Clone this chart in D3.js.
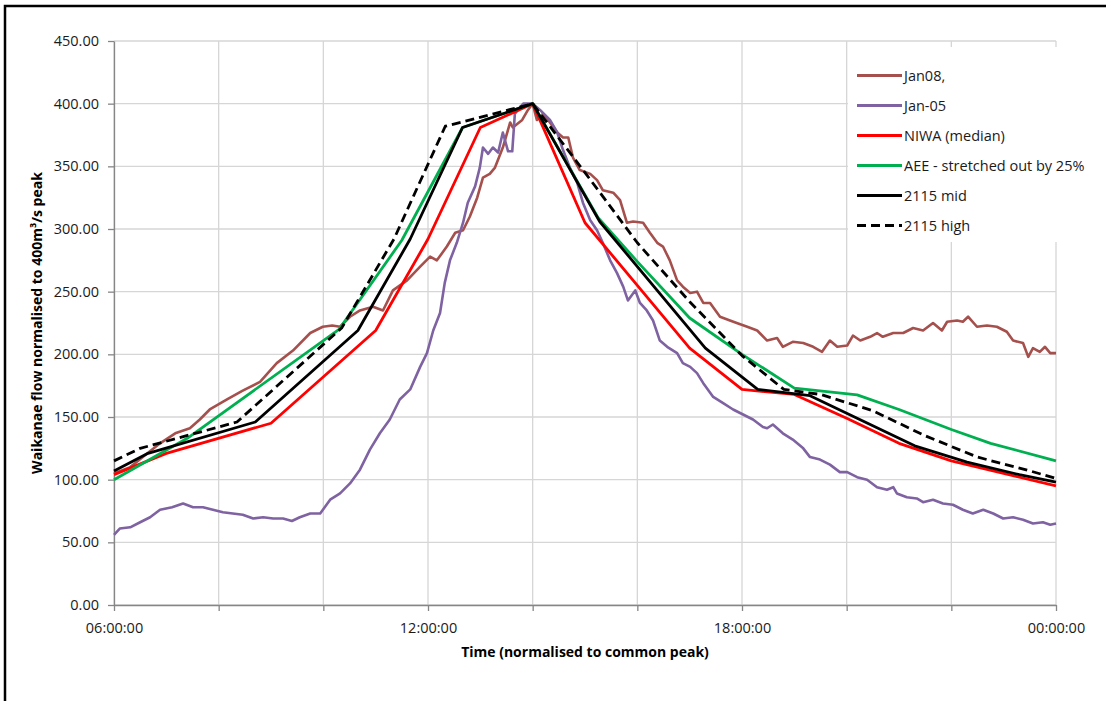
<!DOCTYPE html>
<html>
<head>
<meta charset="utf-8">
<script src="https://cdn.jsdelivr.net/npm/d3@7"></script>
<style>
  body { margin: 0; background: #fff; }
  svg text { font-family: "Open Sans", "Noto Sans", sans-serif; }
</style>
</head>
<body>
<div id="chart"></div>
<script>

// hours from 06:00 (6) to next 00:00 (24)
var gridHours = [6, 8, 10, 12, 14, 16, 18, 20, 22, 24];
var timeTicks = [6, 12, 18, 24];
var timeLabels = ["06:00:00", "12:00:00", "18:00:00", "00:00:00"];
var flowTicks = [0, 50, 100, 150, 200, 250, 300, 350, 400, 450];

var seriesNames = ["Jan08,", "Jan-05", "NIWA (median)", "AEE - stretched out by 25%", "2115 mid", "2115 high"];

var jan08 = [[6.00,105],[6.31,110],[6.55,118],[6.88,129],[7.17,137],[7.45,141],[7.64,148],[7.83,156],[8.16,164],[8.46,171],
  [8.79,178],[9.11,193],[9.42,203],[9.75,217],[9.99,222],[10.17,223],[10.32,222],[10.51,230],[10.70,235],[10.95,238],
  [11.14,235],[11.33,251],[11.60,259],[11.85,270],[12.04,278],[12.17,275],[12.36,286],[12.52,297],[12.67,299],[12.80,310],
  [12.94,325],[13.05,341],[13.18,344],[13.28,349],[13.43,365],[13.57,385],[13.62,381],[13.80,387],[13.91,395],[14.00,400],
  [14.08,387],[14.20,392],[14.33,385],[14.47,377],[14.58,373],[14.68,373],[14.77,357],[14.90,347],[15.10,344],[15.23,339],
  [15.34,331],[15.54,329],[15.67,323],[15.80,305],[15.92,306],[16.11,305],[16.24,297],[16.38,289],[16.49,286],[16.62,275],
  [16.76,259],[16.87,254],[17.01,249],[17.14,250],[17.26,241],[17.39,241],[17.58,230],[17.77,227],[17.90,225],[18.10,222],
  [18.29,219],[18.48,211],[18.67,213],[18.78,206],[18.97,210],[19.17,209],[19.36,206],[19.53,202],[19.68,211],[19.82,206],
  [20.01,207],[20.12,215],[20.26,211],[20.45,214],[20.58,217],[20.69,214],[20.89,217],[21.08,217],[21.27,221],[21.46,219],
  [21.65,225],[21.82,219],[21.92,226],[22.11,227],[22.22,226],[22.32,230],[22.49,222],[22.68,223],[22.87,222],[23.06,218],
  [23.18,211],[23.37,209],[23.47,198],[23.56,205],[23.69,202],[23.79,206],[23.89,201],[24.00,201]];

var jan05 = [[6.00,56],[6.11,61],[6.31,62],[6.50,66],[6.69,70],[6.88,76],[7.11,78],[7.32,81],[7.51,78],[7.70,78],
  [7.89,76],[8.08,74],[8.27,73],[8.46,72],[8.66,69],[8.85,70],[9.04,69],[9.23,69],[9.40,67],[9.55,70],
  [9.75,73],[9.94,73],[10.13,84],[10.32,89],[10.51,97],[10.70,108],[10.89,124],[11.08,137],[11.27,148],[11.46,164],
  [11.66,172],[11.85,190],[11.98,201],[12.10,219],[12.23,233],[12.32,257],[12.42,275],[12.55,289],[12.67,305],[12.76,321],
  [12.90,334],[12.99,349],[13.05,365],[13.15,360],[13.24,365],[13.34,361],[13.43,377],[13.53,362],[13.61,362],[13.66,392],
  [13.82,400],[14.00,400],[14.14,395],[14.33,387],[14.47,377],[14.58,363],[14.71,349],[14.85,337],[14.96,321],[15.10,307],
  [15.23,299],[15.34,289],[15.48,275],[15.61,265],[15.73,254],[15.82,243],[15.96,251],[16.05,241],[16.18,235],[16.30,227],
  [16.43,211],[16.57,206],[16.76,201],[16.87,193],[17.01,190],[17.14,185],[17.26,177],[17.45,166],[17.64,161],[17.83,156],
  [18.02,152],[18.21,148],[18.40,142],[18.48,141],[18.59,144],[18.78,137],[18.97,132],[19.17,125],[19.30,118],[19.49,116],
  [19.68,112],[19.87,106],[20.01,106],[20.20,102],[20.39,100],[20.58,94],[20.77,92],[20.89,94],[20.96,89],[21.15,86],
  [21.34,85],[21.46,82],[21.65,84],[21.84,81],[22.03,80],[22.22,76],[22.41,73],[22.61,76],[22.80,73],[22.99,69],
  [23.18,70],[23.37,68],[23.56,65],[23.75,66],[23.89,64],[24.00,65]];

var niwa = [[6,104],[7,121],[9,145],[11,219],[12,292],[13,381],[14,400],[15,305],[17,205],[18,172],
  [19,168],[20,149],[21,129],[22,115],[23,105],[24,95]];

var aee = [[6,100],[7.4,133],[10.3,220],[11.5,291],[12.66,381],[14,400],[15.25,309],[16,274],[17,229],[18,200],
  [19,173],[20.2,167.6],[21,156],[22,140],[22.75,129],[24,115]];

var mid2115 = [[6,107],[6.65,121],[8.7,146],[10.66,219],[11.66,292],[12.66,381],[14,400],[15.28,306],[17.3,205],[18.3,172],
  [19.3,167],[20.3,147],[21.3,127],[22.3,114],[23.3,104],[24,98]];

var high2115 = [[6,115],[6.5,125],[8.35,146],[10.35,221],[11.35,292],[12.33,382],[14,400],[15,345],[16,289],[17,242],
  [18,199],[18.8,172],[19.5,168],[20.5,155],[21.5,135],[22.5,118],[23.5,107],[24,101]];

var colors = ["#A5504C", "#7E62A1", "#FF0000", "#00B050", "#000000", "#000000"];

function drawChart(containerId){

    var width = 1106, height = 701;
    var plot = {left: 114, right: 1056, top: 41, bottom: 605};

    var svg = d3.select('#'+containerId).append("svg")
        .attr("width", width)
        .attr("height", height);

    var x = d3.scaleLinear().domain([6, 24]).range([plot.left, plot.right]);
    var y = d3.scaleLinear().domain([0, 450]).range([plot.bottom, plot.top]);

    // gridlines
    svg.append("g").selectAll("line.h")
        .data(flowTicks)
        .enter().append("line")
        .attr("x1", plot.left).attr("x2", plot.right)
        .attr("y1", d => y(d)).attr("y2", d => y(d))
        .style("stroke", "#D6D6D6").style("stroke-width", 1.3);

    svg.append("g").selectAll("line.v")
        .data(gridHours)
        .enter().append("line")
        .attr("x1", d => x(d)).attr("x2", d => x(d))
        .attr("y1", plot.top).attr("y2", plot.bottom)
        .style("stroke", "#D6D6D6").style("stroke-width", 1.3);

    // axes
    var yAxis = g => g
        .attr("transform", "translate(" + plot.left + ",0)")
        .call(d3.axisLeft(y).tickValues(flowTicks).tickFormat(d3.format(".2f")).tickSize(6).tickSizeOuter(0).tickPadding(9));

    var xAxis = g => g
        .attr("transform", "translate(0," + plot.bottom + ")")
        .call(d3.axisBottom(x).tickValues(gridHours)
            .tickFormat(d => timeTicks.indexOf(d) >= 0 ? timeLabels[timeTicks.indexOf(d)] : "")
            .tickSize(6).tickSizeOuter(0).tickPadding(12));

    svg.append("g").call(yAxis);
    svg.append("g").call(xAxis);

    svg.selectAll(".domain, .tick line").style("stroke", "#868686").style("stroke-width", 1.3);
    svg.selectAll(".tick text").style("font-size", "14.5px").style("fill", "#1a1a1a")
        .style("font-family", '"Open Sans", sans-serif');

    // axis titles
    svg.append("text")
        .attr("x", (plot.left + plot.right) / 2)
        .attr("y", 657)
        .attr("text-anchor", "middle")
        .style("font-size", "14px").style("font-weight", "bold")
        .text("Time (normalised to common peak)");

    svg.append("text")
        .attr("transform", "translate(42," + ((plot.top + plot.bottom) / 2) + ") rotate(-90)")
        .attr("text-anchor", "middle")
        .style("font-size", "14px").style("font-weight", "bold")
        .text("Waikanae flow normalised to 400m³/s peak");

    // series
    var line = d3.line()
        .x(d => x(d[0]))
        .y(d => y(d[1]));

    var allSeries = [jan08, jan05, niwa, aee, mid2115, high2115];

    svg.append("g").selectAll("path")
        .data(allSeries)
        .enter().append("path")
        .attr("fill", "none")
        .attr("stroke", (d, i) => colors[i])
        .attr("stroke-width", (d, i) => i < 2 ? 2.6 : 2.8)
        .attr("stroke-dasharray", (d, i) => i == 5 ? "9,5" : null)
        .attr("stroke-linejoin", "round")
        .attr("d", d => line(d));

    // legend
    var legend = svg.append("g");
    legend.append("rect")
        .attr("x", 848).attr("y", 47)
        .attr("width", 250).attr("height", 195)
        .attr("fill", "#fff");

    var item = legend.selectAll("g.item")
        .data(seriesNames)
        .enter().append("g")
        .attr("transform", (d, i) => "translate(857," + (75.5 + i * 30) + ")");

    item.append("line")
        .attr("x1", 0).attr("x2", 45)
        .attr("stroke", (d, i) => colors[i])
        .attr("stroke-width", 2.8)
        .attr("stroke-dasharray", (d, i) => i == 5 ? "9,5" : null);

    item.append("text")
        .attr("x", 47).attr("dy", "0.35em")
        .style("font-size", "14.5px").style("fill", "#1a1a1a")
        .text(d => d);

    // outer frame (left and top edges)
    svg.append("path")
        .attr("d", "M5,701V6H1106")
        .attr("fill", "none")
        .attr("stroke", "#000")
        .attr("stroke-width", 2.5);
}

drawChart('chart');
</script>
</body>
</html>
